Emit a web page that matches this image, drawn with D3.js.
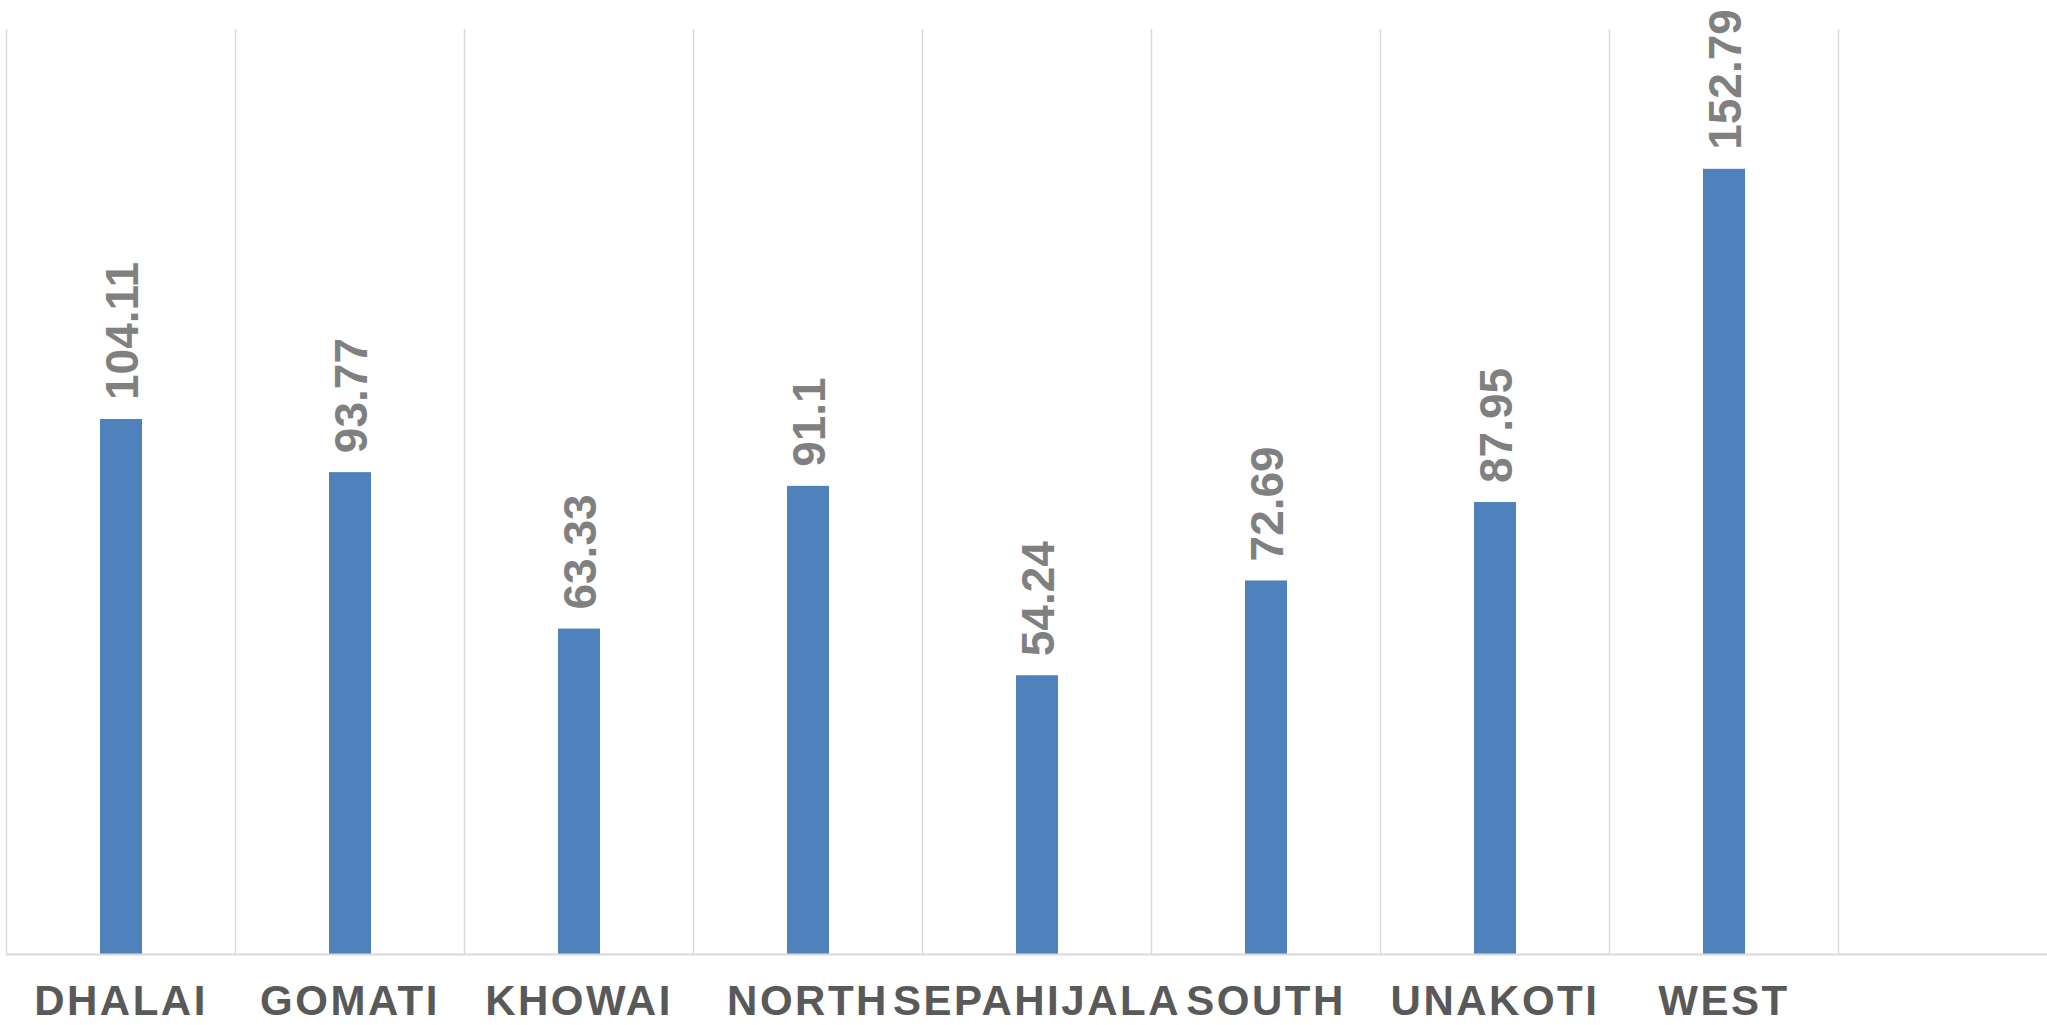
<!DOCTYPE html>
<html>
<head>
<meta charset="utf-8">
<script src="https://cdn.jsdelivr.net/npm/d3@7"></script>
<style>
  html, body { margin: 0; padding: 0; background: #ffffff; }
  svg { display: block; }
</style>
</head>
<body>
<div id="frame"></div>
<script>
// CHART VARIABLES
const width = 2047;
const height = 1025;

// data
const districts = ["DHALAI", "GOMATI", "KHOWAI", "NORTH", "SEPAHIJALA", "SOUTH", "UNAKOTI", "WEST"];
const values = [104.11, 93.77, 63.33, 91.1, 54.24, 72.69, 87.95, 152.79];
const yDomain = [0, 180];

// plot area
const plotLeft = 6.5, plotRight = 1838.5, plotTop = 29, plotBase = 954;

const svg = d3.select("#frame")
    .append("svg")
        .attr("width", width)
        .attr("height", height)
        .attr("viewBox", [0, 0, width, height]);

// grid cells (one per district) and narrow bars centred in them
const xCell = d3.scaleBand()
    .domain(districts)
    .range([plotLeft, plotRight])
    .padding(0);

const barPad = 1 - 42 / xCell.step();
const x = d3.scaleBand()
    .domain(districts)
    .range([plotLeft, plotRight])
    .paddingInner(barPad)
    .paddingOuter(barPad / 2);

const y = d3.scaleLinear()
    .domain(yDomain)
    .range([plotBase, plotTop]);

// vertical gridlines at cell edges
const edges = districts.map(d => xCell(d)).concat([plotRight]);
svg.append("g")
        .attr("class", "grid")
    .selectAll("line")
    .data(edges)
    .enter()
    .append("line")
        .attr("x1", d => d)
        .attr("x2", d => d)
        .attr("y1", plotTop)
        .attr("y2", plotBase)
        .attr("stroke", "#d9d9d9")
        .attr("stroke-width", 1.5);

// bars
svg.append("g")
        .attr("class", "bars")
    .selectAll("rect")
    .data(districts)
    .enter()
    .append("rect")
        .attr("x", d => x(d))
        .attr("y", (d, i) => y(values[i]))
        .attr("width", x.bandwidth())
        .attr("height", (d, i) => plotBase - y(values[i]))
        .attr("fill", "#4f81bd");

// baseline
svg.append("line")
    .attr("x1", plotLeft - 0.5)
    .attr("x2", width)
    .attr("y1", plotBase + 0.5)
    .attr("y2", plotBase + 0.5)
    .attr("stroke", "#d9d9d9")
    .attr("stroke-width", 2);

// value labels, rotated
svg.append("g")
        .attr("class", "labels")
    .selectAll("text")
    .data(districts)
    .enter()
    .append("text")
        .attr("transform", (d, i) => {
            const cx = x(d) + x.bandwidth() / 2;
            const cy = y(values[i]) - 19;
            return "translate(" + cx + "," + cy + ") rotate(-90)";
        })
        .attr("dy", "0.36em")
        .attr("text-anchor", "start")
        .attr("font-family", "'Liberation Sans', Arial, sans-serif")
        .attr("font-weight", "bold")
        .attr("font-size", 46)
        .attr("fill", "#808080")
        .text((d, i) => values[i]);

// category labels
svg.append("g")
        .attr("class", "cats")
    .selectAll("text")
    .data(districts)
    .enter()
    .append("text")
        .attr("x", d => xCell(d) + xCell.bandwidth() / 2)
        .attr("y", 1015)
        .attr("text-anchor", "middle")
        .attr("font-family", "'Liberation Sans', Arial, sans-serif")
        .attr("font-weight", "bold")
        .attr("font-size", 42)
        .attr("letter-spacing", 2.5)
        .attr("fill", "#595959")
        .text(d => d);
</script>
</body>
</html>
